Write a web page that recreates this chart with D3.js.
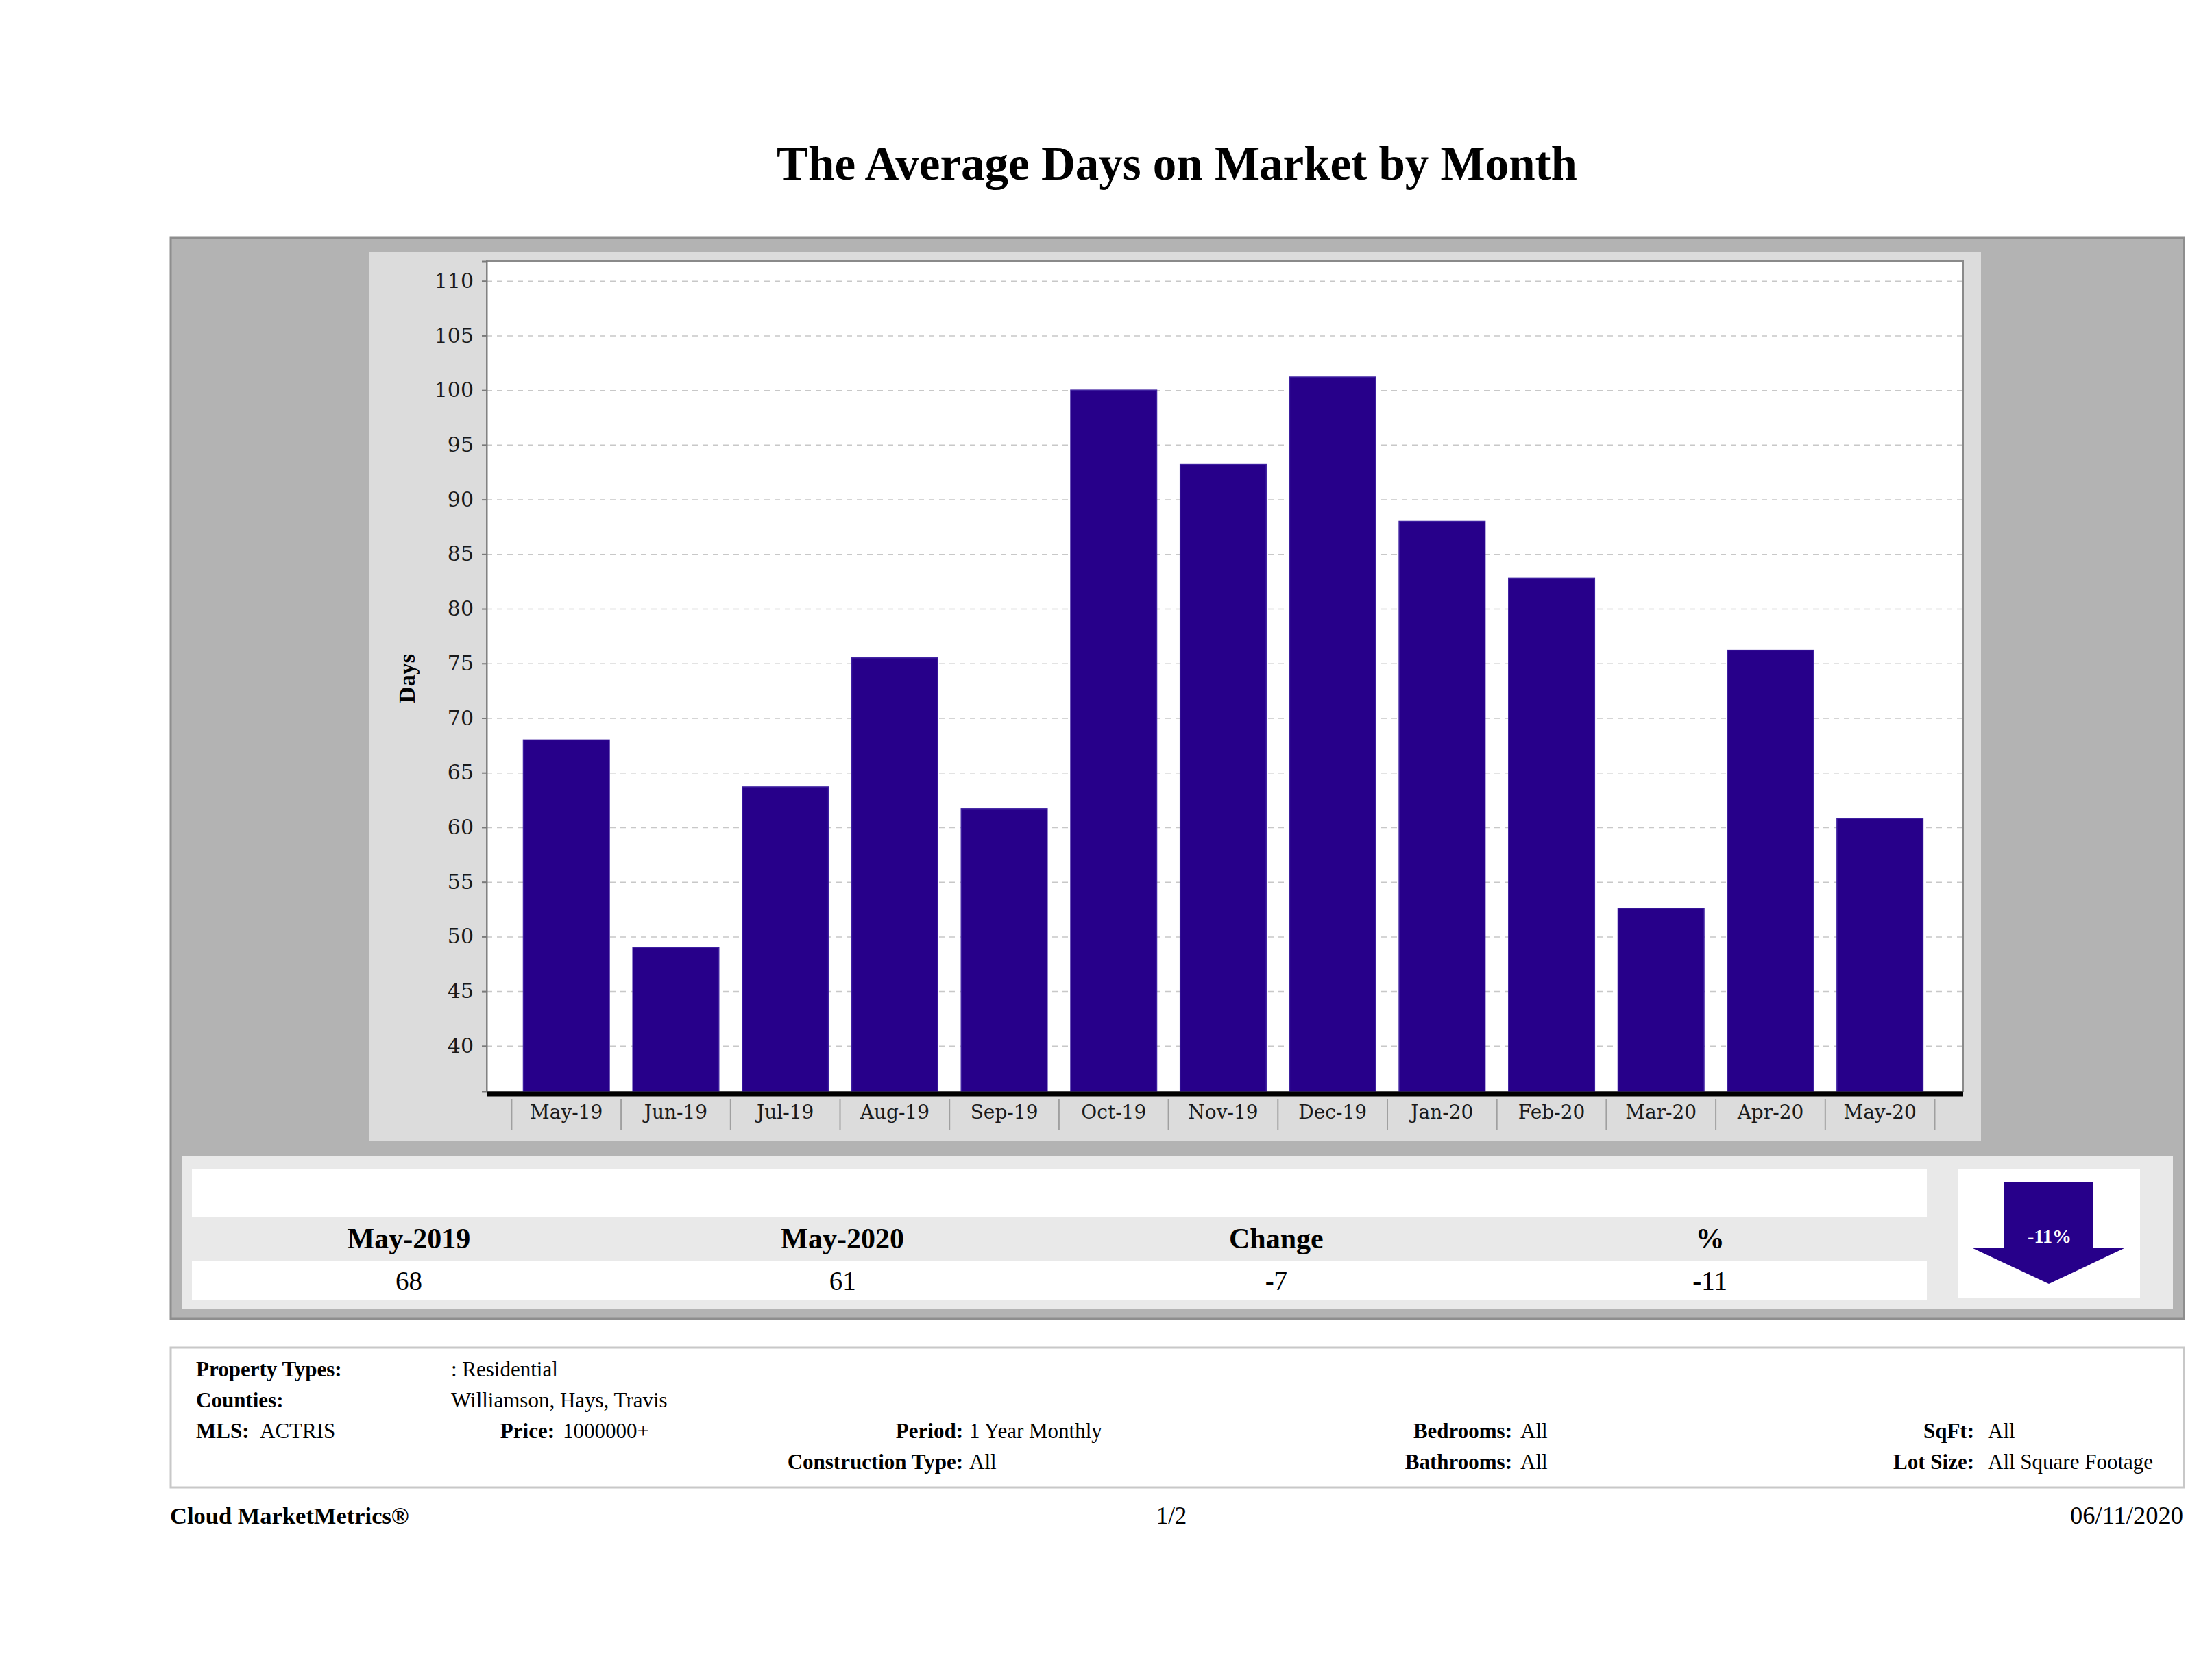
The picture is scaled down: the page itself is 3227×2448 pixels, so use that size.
<!DOCTYPE html>
<html>
<head>
<meta charset="utf-8">
<script src="https://cdn.jsdelivr.net/npm/d3@7"></script>
<style>
  body { margin: 0; background: #fff; }
  svg { display: block; }
  .tick text { fill: #1a1a1a; }
</style>
</head>
<body>
<svg id="chart"></svg>
<script>
// chart values
const months = ["May-19", "Jun-19", "Jul-19", "Aug-19", "Sep-19", "Oct-19", "Nov-19",
  "Dec-19", "Jan-20", "Feb-20", "Mar-20", "Apr-20", "May-20"];
const avgDays = [68, 49, 63.7, 75.5, 61.7, 100, 93.2, 101.2, 88, 82.8, 52.6, 76.2, 60.8];
const yTicks = [40, 45, 50, 55, 60, 65, 70, 75, 80, 85, 90, 95, 100, 105, 110];

// summary table
const summaryHeaders = ["May-2019", "May-2020", "Change", "%"];
const summaryValues = ["68", "61", "-7", "-11"];
const changeLabel = "-11%";

// report filters
const infoRows = [
  { label: "Property Types:", value: ": Residential" },
  { label: "Counties:", value: "Williamson, Hays, Travis" }
];
const infoMid = [
  { label: "MLS:", value: "ACTRIS" },
  { label: "Price:", value: "1000000+" },
  { label: "Period:", value: "1 Year Monthly" },
  { label: "Bedrooms:", value: "All" },
  { label: "SqFt:", value: "All" }
];
const infoLast = [
  { label: "Construction Type:", value: "All" },
  { label: "Bathrooms:", value: "All" },
  { label: "Lot Size:", value: "All Square Footage" }
];

const W = 3227, H = 2448;
const serif = "'Liberation Serif', 'Times New Roman', serif";
const tickFont = "'DejaVu Serif', serif";
const barColor = "#27008a";

const svg = d3.select("#chart").attr("width", W).attr("height", H);
svg.append("rect").attr("width", W).attr("height", H).attr("fill", "#fff");

// title
svg.append("text")
  .attr("x", 1717).attr("y", 262)
  .attr("text-anchor", "middle")
  .style("font-family", serif).style("font-weight", "bold").style("font-size", "69px")
  .text("The Average Days on Market by Month");

// outer grey panel
svg.append("rect")
  .attr("x", 249).attr("y", 347).attr("width", 2937).attr("height", 1577)
  .attr("fill", "#b3b3b3").attr("stroke", "#8e8e8e").attr("stroke-width", 3);

// chart box
svg.append("rect")
  .attr("x", 539).attr("y", 367).attr("width", 2351).attr("height", 1297)
  .attr("fill", "#dcdcdc");

const plot = { left: 710, right: 2864, top: 381, bottom: 1592 };

svg.append("rect")
  .attr("x", plot.left).attr("y", plot.top)
  .attr("width", plot.right - plot.left).attr("height", plot.bottom - plot.top)
  .attr("fill", "#fff").attr("stroke", "#8a8a8a").attr("stroke-width", 2);

const y = d3.scaleLinear()
  .domain([35.85, 111.8])
  .range([plot.bottom, plot.top]);

const x = d3.scaleBand()
  .domain(months)
  .range([746.4, 2822.5])
  .paddingInner(0.214)
  .paddingOuter(0.107);

// gridlines
const grid = svg.append("g")
  .attr("transform", `translate(${plot.left},0)`)
  .call(d3.axisLeft(y).tickValues(yTicks).tickSize(-(plot.right - plot.left)).tickFormat(""));
grid.select(".domain").remove();
grid.selectAll("line")
  .attr("stroke", "#c8c8c8").attr("stroke-width", 1.5).attr("stroke-dasharray", "8,7");

// bars
svg.selectAll(".bar")
  .data(avgDays)
  .enter()
  .append("rect")
  .attr("class", "bar")
  .attr("x", (d, i) => x(months[i]))
  .attr("y", d => y(d))
  .attr("width", x.bandwidth())
  .attr("height", d => plot.bottom - y(d))
  .attr("fill", barColor)
  .attr("stroke", "#3d1fa0")
  .attr("stroke-width", 1.5);

// y axis
const yAxis = svg.append("g")
  .attr("transform", `translate(${plot.left},0)`)
  .call(d3.axisLeft(y).tickValues(yTicks).tickSize(7).tickPadding(12));
yAxis.select(".domain").attr("stroke", "#7a7a7a").attr("stroke-width", 2);
yAxis.selectAll(".tick line").attr("stroke", "#7a7a7a").attr("stroke-width", 2);
yAxis.selectAll(".tick text")
  .style("font-family", tickFont).style("font-size", "30px");

svg.append("text")
  .attr("transform", "translate(605,990) rotate(-90)")
  .attr("text-anchor", "middle")
  .style("font-family", serif).style("font-weight", "bold").style("font-size", "34px")
  .text("Days");

// x axis
svg.append("line")
  .attr("x1", plot.left).attr("x2", plot.right)
  .attr("y1", plot.bottom + 4).attr("y2", plot.bottom + 4)
  .attr("stroke", "#000").attr("stroke-width", 7);

const gap = x.step() - x.bandwidth();
const sepX = months.map(m => x(m) - gap / 2).concat([x(months[months.length - 1]) + x.bandwidth() + gap / 2]);
svg.selectAll(".sep")
  .data(sepX)
  .enter()
  .append("line")
  .attr("x1", d => d).attr("x2", d => d)
  .attr("y1", 1603).attr("y2", 1648)
  .attr("stroke", "#a0a0a0").attr("stroke-width", 2);

const xAxis = svg.append("g")
  .attr("transform", `translate(0,${plot.bottom + 8})`)
  .call(d3.axisBottom(x).tickSize(0).tickPadding(12));
xAxis.select(".domain").remove();
xAxis.selectAll(".tick text")
  .style("font-family", tickFont).style("font-size", "28px");

// summary panel
svg.append("rect")
  .attr("x", 265).attr("y", 1687).attr("width", 2905).attr("height", 223)
  .attr("fill", "#e9e9e9");
svg.append("rect")
  .attr("x", 280).attr("y", 1705).attr("width", 2531).attr("height", 70).attr("fill", "#fff");
svg.append("rect")
  .attr("x", 280).attr("y", 1840).attr("width", 2531).attr("height", 57).attr("fill", "#fff");

const col = d3.scaleBand().domain(summaryHeaders).range([280, 2811]);

svg.selectAll(".shead")
  .data(summaryHeaders)
  .enter()
  .append("text")
  .attr("x", d => col(d) + col.bandwidth() / 2)
  .attr("y", 1821)
  .attr("text-anchor", "middle")
  .style("font-family", serif).style("font-weight", "bold").style("font-size", "42px")
  .text(d => d);

svg.selectAll(".sval")
  .data(summaryValues)
  .enter()
  .append("text")
  .attr("x", (d, i) => col(summaryHeaders[i]) + col.bandwidth() / 2)
  .attr("y", 1882)
  .attr("text-anchor", "middle")
  .style("font-family", serif).style("font-size", "39px")
  .text(d => d);

// arrow box
svg.append("rect")
  .attr("x", 2856).attr("y", 1705).attr("width", 266).attr("height", 188).attr("fill", "#fff");
svg.append("path")
  .attr("d", "M2923,1724 L3054,1724 L3054,1821 L3099,1821 L2989,1873 L2878,1821 L2923,1821 Z")
  .attr("fill", barColor);
svg.append("text")
  .attr("x", 2990).attr("y", 1813)
  .attr("text-anchor", "middle")
  .attr("fill", "#fff")
  .style("font-family", serif).style("font-weight", "bold").style("font-size", "28px")
  .text(changeLabel);

// info box
svg.append("rect")
  .attr("x", 249).attr("y", 1966).attr("width", 2937).attr("height", 204)
  .attr("fill", "#fff").attr("stroke", "#c8c8c8").attr("stroke-width", 3);

const info = svg.append("g")
  .style("font-family", serif).style("font-size", "31px").attr("fill", "#000");

function field(lx, ly, label, value, vx, anchor) {
  info.append("text").attr("x", lx).attr("y", ly)
    .attr("text-anchor", anchor || "start")
    .style("font-weight", "bold").text(label);
  info.append("text").attr("x", vx).attr("y", ly).text(value);
}

field(286, 2008, infoRows[0].label, infoRows[0].value, 658);
field(286, 2053, infoRows[1].label, infoRows[1].value, 658);

// MLS is left-aligned, the rest of this row sit right-aligned against their values
field(286, 2098, infoMid[0].label, infoMid[0].value, 379);
const midLabelEnd = [809, 1405, 2206, 2880];
const midValueStart = [821, 1414, 2218, 2900];
infoMid.slice(1).forEach((f, i) => field(midLabelEnd[i], 2098, f.label, f.value, midValueStart[i], "end"));

const lastLabelEnd = [1405, 2206, 2880];
const lastValueStart = [1414, 2218, 2900];
infoLast.forEach((f, i) => field(lastLabelEnd[i], 2143, f.label, f.value, lastValueStart[i], "end"));

// footer
svg.append("text")
  .attr("x", 248).attr("y", 2223)
  .style("font-family", serif).style("font-weight", "bold").style("font-size", "34.5px")
  .text("Cloud MarketMetrics®");
svg.append("text")
  .attr("x", 1709).attr("y", 2223).attr("text-anchor", "middle")
  .style("font-family", serif).style("font-size", "35px")
  .text("1/2");
svg.append("text")
  .attr("x", 3185).attr("y", 2223).attr("text-anchor", "end")
  .style("font-family", serif).style("font-size", "36.5px")
  .text("06/11/2020");
</script>
</body>
</html>
